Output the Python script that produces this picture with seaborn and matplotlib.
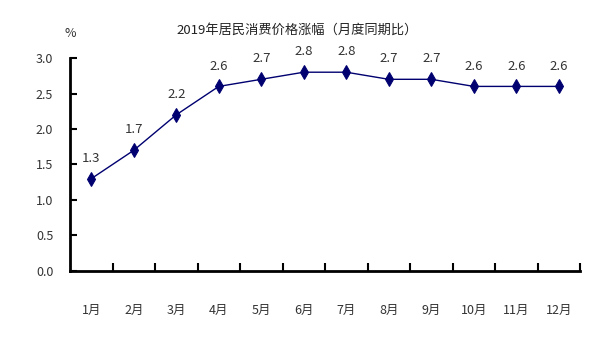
import numpy as np
import pandas as pd
import matplotlib
matplotlib.use('Agg')
import matplotlib.pyplot as plt
import seaborn as sns
from matplotlib.ticker import FixedLocator

# monthly CPI year-on-year growth, 2019
months = ['1月', '2月', '3月', '4月', '5月', '6月', '7月', '8月', '9月', '10月', '11月', '12月']
cpi = [1.3, 1.7, 2.2, 2.6, 2.7, 2.8, 2.8, 2.7, 2.7, 2.6, 2.6, 2.6]
yticks = [0.0, 0.5, 1.0, 1.5, 2.0, 2.5, 3.0]

sns.set_style('white')
plt.rcParams['font.family'] = ['Noto Sans CJK SC', 'DejaVu Sans']

df = pd.DataFrame({'month': months, 'cpi': cpi})

fig = plt.figure(figsize=(6, 3.57), dpi=100)
ax = fig.add_axes([0.1167, 0.241, 0.85, 0.5965])

sns.lineplot(data=df, x='month', y='cpi', ax=ax, color='#000070', linewidth=1,
             marker='d', markersize=7.5, markeredgecolor='#000070', sort=False)

# data labels
for i, v in enumerate(cpi):
    ax.annotate(f'{v:.1f}', (i, v), xytext=(0, 10), textcoords='offset points',
                ha='center', va='bottom', fontsize=9.5, color='#333333')

ax.set_xlim(-0.5, len(months) - 0.5)
ax.set_ylim(0, 3.0)
ax.set_yticks(yticks)
ax.set_yticklabels([f'{t:.1f}' for t in yticks])
ax.set_xlabel('')
ax.set_ylabel('')

# category boundaries get the tick marks, labels stay centered
ax.xaxis.set_minor_locator(FixedLocator(np.arange(0.5, len(months), 1.0)))
ax.tick_params(axis='x', which='both', bottom=True)
ax.tick_params(axis='y', which='major', left=True)
ax.tick_params(axis='x', which='major', length=0, pad=24, labelsize=9, labelcolor='#333333')
ax.tick_params(axis='x', which='minor', direction='in', length=6, width=1.5, color='black')
ax.tick_params(axis='y', which='major', direction='in', length=5, width=1.5, color='black',
               pad=12, labelsize=9, labelcolor='#333333')

sns.despine(ax=ax)
for s in ['left', 'bottom']:
    ax.spines[s].set_linewidth(2)
    ax.spines[s].set_color('black')

fig.text(0.495, 0.915, '2019年居民消费价格涨幅（月度同期比）', ha='center', va='center',
         fontsize=9.5, color='#222222')
fig.text(0.117, 0.905, '%', ha='center', va='center', fontsize=9, color='#333333')

fig.savefig('out.png', dpi=100)
